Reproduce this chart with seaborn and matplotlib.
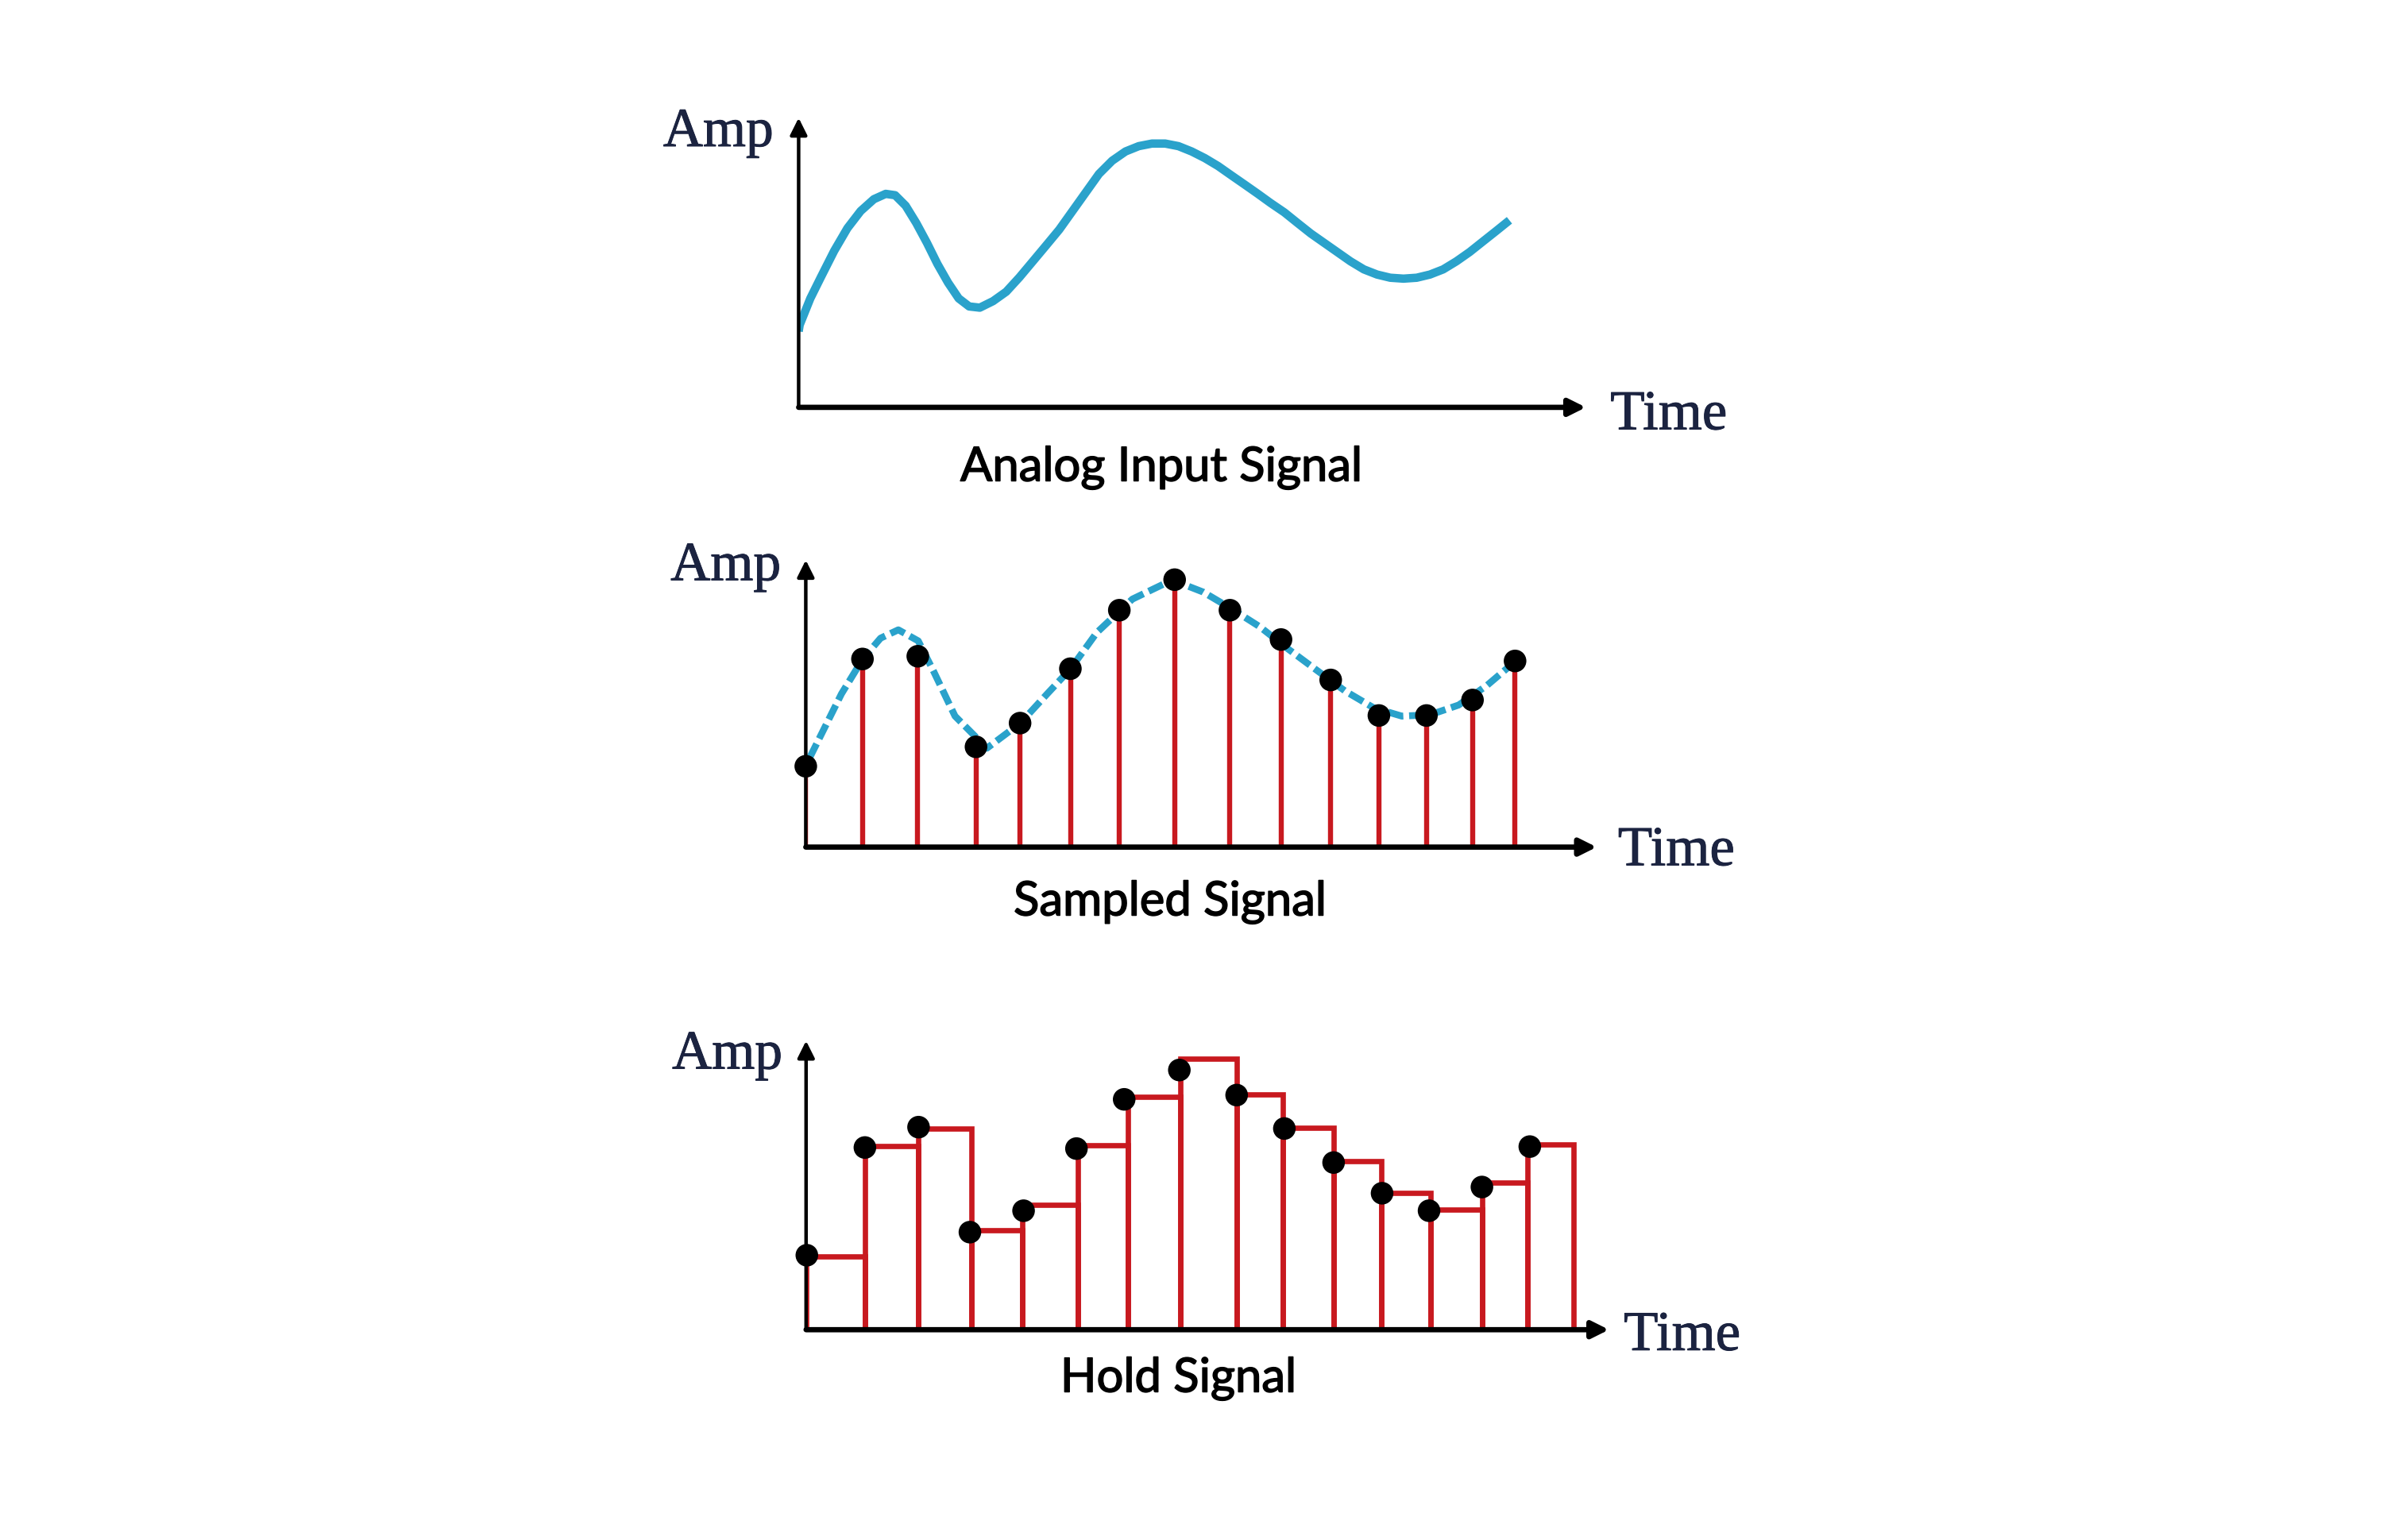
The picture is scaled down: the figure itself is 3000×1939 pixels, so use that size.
import numpy as np
import pandas as pd
import matplotlib
matplotlib.use("Agg")
import matplotlib.pyplot as plt
import matplotlib.patheffects as pe
import seaborn as sns

# ---------------- data (units = amplitude / time) -------------
# Panel 1: analog input signal (continuous curve)
analog_t = [0.0, 0.7, 7.7, 14.6, 23.4, 32.1, 40.8, 49.5, 57.3, 63.5, 70.4, 77.4, 84.4,
            91.3, 98.3, 105.3, 112.2, 119.2, 127.9, 136.6, 145.3, 153.6, 162.8, 171.5,
            180.2, 188.9, 197.6, 206.3, 215.1, 223.8, 232.5, 241.2, 249.9, 258.6, 267.3,
            276.0, 284.7, 293.5, 302.2, 310.5, 319.6, 328.3, 337.0, 345.7, 354.4, 363.1,
            371.9, 380.6, 389.3, 398.0, 406.7, 415.4, 424.1, 432.8, 441.5, 450.3, 459.0,
            467.7]
analog_a = [50.0, 54.3, 71.7, 85.6, 103.0, 117.9, 129.2, 137.0, 140.5, 139.6, 132.7,
            121.3, 108.3, 94.4, 82.1, 71.7, 66.4, 65.6, 69.9, 76.1, 85.6, 95.5, 106.5,
            117.0, 129.2, 141.4, 153.6, 162.3, 168.4, 171.9, 173.6, 173.6, 171.9, 168.4,
            164.0, 158.8, 152.7, 146.6, 140.5, 134.5, 128.3, 121.3, 114.4, 108.3, 102.2,
            96.1, 90.8, 87.4, 85.3, 84.7, 85.3, 87.4, 90.8, 96.1, 102.2, 109.2, 116.1,
            123.1]

# Panel 2: sampled signal (dashed reference curve + samples)
sampled_curve_t = [2.5, 23.5, 37.5, 49.2, 60.9, 74.0, 84.2, 98.2, 119.2, 141.2, 158.9,
                   174.3, 191.5, 214.9, 235.9, 242.9, 261.6, 280.2, 298.9, 317.6, 336.2,
                   354.9, 373.6, 392.2, 410.9, 429.6, 448.2, 462.2]
sampled_curve_a = [58.7, 100.9, 123.8, 137.5, 143.0, 135.7, 115.5, 86.2, 65.1, 81.6, 100.9,
                   117.4, 141.2, 163.2, 173.3, 175.1, 167.8, 156.8, 144.9, 130.2, 116.4,
                   102.7, 91.7, 86.2, 87.1, 93.5, 106.4, 118.3]
sample_t = [0.0, 37.3, 73.7, 112.0, 141.0, 174.1, 206.3, 242.7, 279.1, 312.7, 345.4,
            377.1, 408.4, 438.7, 466.7]
sample_a = [53.2, 123.8, 125.6, 66.0, 81.6, 117.4, 155.9, 176.0, 155.9, 136.6, 110.0,
            86.6, 86.6, 96.8, 122.5]

# Panel 3: hold signal (held levels between edges + sample dots)
hold_edges = [0.0, 38.7, 74.0, 108.8, 142.1, 178.9, 211.7, 246.5, 283.3, 313.7, 347.1,
              378.5, 410.9, 444.7, 474.7, 505.2]
hold_levels = [48.0, 121.0, 132.4, 65.5, 82.0, 121.4, 153.1, 178.2, 154.7, 132.7, 110.7,
               89.8, 79.2, 96.6, 121.7]
hold_dot_t = [0.5, 38.7, 74.0, 107.8, 143.1, 177.9, 209.3, 245.6, 283.3, 314.7, 347.1,
              379.0, 409.9, 444.7, 476.2]
hold_dot_a = [49.0, 119.9, 133.3, 64.2, 78.3, 119.2, 151.6, 170.9, 154.4, 132.4, 110.0,
              89.8, 78.3, 93.9, 120.5]

titles = ["Analog Input Signal", "Sampled Signal", "Hold Signal"]
y_label = "Amp"
x_label = "Time"

# ---------------- style -------------
CYAN = "#2aa2cb"
RED = "#c8191f"
NAVY = "#1b2340"
SERIF = ["Liberation Serif", "DejaVu Serif"]
SANS = ["Lato", "DejaVu Sans"]

sns.set_theme(style="white")
plt.rcParams["font.family"] = SANS

W, H = 1568.0, 1014.0  # layout reference frame
fig = plt.figure(figsize=(15, 9.7), dpi=200)
fig.patch.set_facecolor("white")

# (x0, y0, length, height) of each axis frame, and text anchors
frames = [(525.5, 268.6, 518.0, 190.5),
          (530.2, 558.0, 520.4, 188.9),
          (530.4, 875.6, 528.3, 190.1)]
amp_pos = [(509.0, 96.7), (513.9, 382.3), (514.9, 703.8)]
time_pos = [(1059.6, 283.0), (1064.6, 569.9), (1068.4, 889.0)]
title_pos = [(764.3, 317.0), (770.0, 602.9), (775.5, 916.5)]

axes = []
for (x0, y0, L, Hh) in frames:
    ax = fig.add_axes([x0 / W, 1 - y0 / H, L / W, Hh / H])
    axes.append(ax)


def draw_axes(ax, L, Hh):
    ax.annotate("", xy=(L, 0), xytext=(0, 0), xycoords="data",
                arrowprops=dict(arrowstyle="-|>", lw=2.4, color="black",
                                mutation_scale=16, shrinkA=0, shrinkB=0),
                annotation_clip=False, zorder=6)
    ax.annotate("", xy=(0, Hh), xytext=(0, 0), xycoords="data",
                arrowprops=dict(arrowstyle="-|>", lw=1.6, color="black",
                                mutation_scale=16, shrinkA=0, shrinkB=0),
                annotation_clip=False, zorder=6)


# Panel 1
ax = axes[0]
df1 = pd.DataFrame({"t": analog_t, "a": analog_a})
sns.lineplot(data=df1, x="t", y="a", ax=ax, color=CYAN, linewidth=3.8,
             solid_capstyle="butt", solid_joinstyle="round", legend=False)

# Panel 2
ax = axes[1]
df2 = pd.DataFrame({"t": sampled_curve_t, "a": sampled_curve_a})
sns.lineplot(data=df2, x="t", y="a", ax=ax, color=CYAN, linewidth=3.1, legend=False)
ax.lines[-1].set_linestyle((0, (2.3, 0.85)))
ax.vlines(sample_t, 0, sample_a, colors=RED, linewidth=2.3, zorder=3)
df2s = pd.DataFrame({"t": sample_t, "a": sample_a})
sns.scatterplot(data=df2s, x="t", y="a", ax=ax, color="black", s=105,
                edgecolor="none", zorder=5, legend=False, clip_on=False)

# Panel 3
ax = axes[2]
widths = np.diff(hold_edges)
ax.bar(hold_edges[:-1], hold_levels, width=widths, align="edge", fill=False,
       edgecolor=RED, linewidth=2.4, zorder=3)
df3 = pd.DataFrame({"t": hold_dot_t, "a": hold_dot_a})
sns.scatterplot(data=df3, x="t", y="a", ax=ax, color="black", s=105,
                edgecolor="none", zorder=5, legend=False, clip_on=False)

for ax, (x0, y0, L, Hh) in zip(axes, frames):
    ax.set_xlim(0, L)
    ax.set_ylim(0, Hh)
    ax.set_axis_off()
    draw_axes(ax, L, Hh)

serif_fx = [pe.withStroke(linewidth=0.35, foreground=NAVY)]
sans_fx = [pe.withStroke(linewidth=0.55, foreground="black")]
for i in range(3):
    fig.text(amp_pos[i][0] / W, 1 - amp_pos[i][1] / H, y_label, ha="right",
             va="baseline", fontsize=25, color=NAVY, family=SERIF,
             path_effects=serif_fx)
    fig.text(time_pos[i][0] / W, 1 - time_pos[i][1] / H, x_label, ha="left",
             va="baseline", fontsize=25.5, color=NAVY, family=SERIF,
             path_effects=serif_fx)
    fig.text(title_pos[i][0] / W, 1 - title_pos[i][1] / H, titles[i], ha="center",
             va="baseline", fontsize=21.5, color="black", family=SANS,
             path_effects=sans_fx)

fig.savefig("out.png", dpi=200, facecolor="white")
